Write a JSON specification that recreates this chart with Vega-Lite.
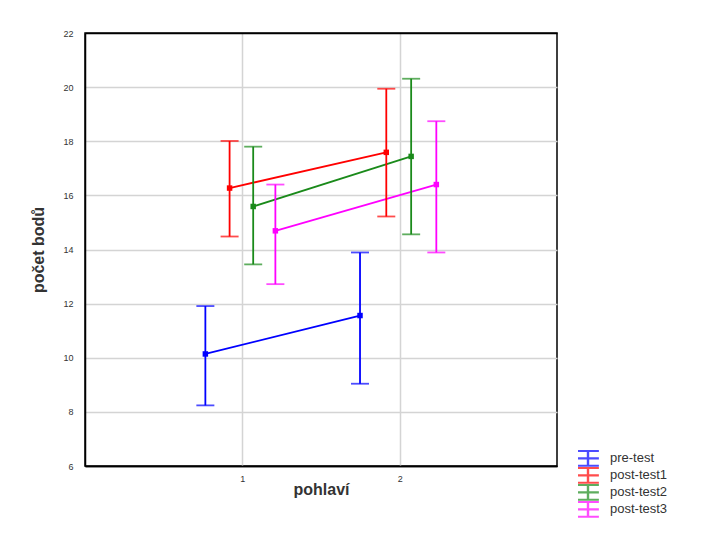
{
  "$schema": "https://vega.github.io/schema/vega-lite/v6.json",
  "autosize": {"type": "none"},
  "padding": {"left": 85, "top": 33, "right": 145, "bottom": 69},
  "width": 472,
  "height": 433,
  "background": "#ffffff",
  "config": {
    "view": {"stroke": "#000000", "strokeWidth": 1.5},
    "font": "Liberation Sans"
  },
  "data": {
    "values": [
      {"test": "pre-test", "x": 0.765, "mean": 10.14, "lo": 8.24, "hi": 11.91},
      {"test": "pre-test", "x": 1.748, "mean": 11.56, "lo": 9.04, "hi": 13.89},
      {"test": "post-test1", "x": 0.919, "mean": 16.27, "lo": 14.48, "hi": 18.01},
      {"test": "post-test1", "x": 1.915, "mean": 17.59, "lo": 15.22, "hi": 19.94},
      {"test": "post-test2", "x": 1.069, "mean": 15.59, "lo": 13.45, "hi": 17.8},
      {"test": "post-test2", "x": 2.073, "mean": 17.44, "lo": 14.56, "hi": 20.31},
      {"test": "post-test3", "x": 1.21, "mean": 14.69, "lo": 12.72, "hi": 16.4},
      {"test": "post-test3", "x": 2.233, "mean": 16.4, "lo": 13.89, "hi": 18.74}
    ]
  },
  "encoding": {
    "x": {
      "field": "x", "type": "quantitative",
      "scale": {"domain": [0, 3], "nice": false, "zero": false},
      "axis": {
        "title": "pohlaví", "values": [1, 2], "format": "d",
        "grid": true, "gridColor": "#d4d4d4", "gridWidth": 1.5,
        "ticks": false, "domain": true, "domainColor": "#000000", "domainWidth": 1.5,
        "labelFontSize": 9, "labelColor": "#333333", "labelPadding": 8,
        "titleFontSize": 16, "titleFontWeight": "bold", "titleColor": "#333333",
        "titlePadding": -2
      }
    },
    "color": {
      "field": "test", "type": "nominal",
      "scale": {
        "domain": ["pre-test", "post-test1", "post-test2", "post-test3"],
        "range": ["#0000ff", "#ff0000", "#1a8a1a", "#ff00ff"]
      }
    },
    "detail": {"field": "test"}
  },
  "layer": [
    {
      "mark": {"type": "line", "strokeWidth": 1.8},
      "encoding": {
        "y": {
          "field": "mean", "type": "quantitative",
          "scale": {"domain": [6, 22], "nice": false, "zero": false},
          "axis": {
            "title": "počet bodů", "values": [6, 8, 10, 12, 14, 16, 18, 20, 22],
            "grid": true,
            "gridColor": {"condition": {"test": "datum.value === 22 || datum.value === 6", "value": "#000000"}, "value": "#d4d4d4"},
            "gridWidth": 1.5,
            "ticks": false, "domain": true, "domainColor": "#000000", "domainWidth": 1.5,
            "labelFontSize": 9, "labelColor": "#333333", "labelPadding": 12,
            "titleFontSize": 16, "titleFontWeight": "bold", "titleColor": "#333333",
            "titlePadding": 16
          }
        },
        "color": {
          "field": "test", "type": "nominal",
          "legend": {
            "title": null, "orient": "none", "legendX": 493, "legendY": 417,
            "symbolType": "M-1.3,-0.9H1.3M-1.3,0.9H1.3M0,-0.9V0.9M-1.3,0H1.3",
            "symbolSize": 280, "symbolStrokeWidth": 2.4,
            "labelFontSize": 13, "labelColor": "#333333",
            "rowPadding": 0, "clipHeight": 16.7, "labelOffset": 12
          }
        }
      }
    },
    {
      "mark": {"type": "errorbar", "ticks": {"size": 18}, "thickness": 1.8},
      "encoding": {
        "y": {"field": "lo", "type": "quantitative", "title": "počet bodů"},
        "y2": {"field": "hi"}
      }
    },
    {
      "mark": {"type": "point", "filled": true, "shape": "square", "size": 30, "opacity": 1},
      "encoding": {
        "y": {"field": "mean", "type": "quantitative"}
      }
    }
  ]
}
